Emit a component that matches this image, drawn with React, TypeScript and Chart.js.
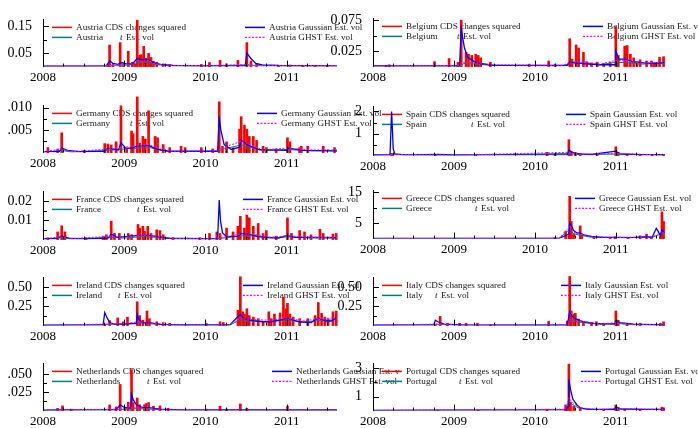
import React, { useEffect, useRef } from 'react';
import { Chart, registerables } from 'chart.js';
Chart.register(...registerables);

const FONT = '"Liberation Serif", "Times New Roman", serif';
Chart.defaults.font.family = FONT;

const YEARS = [2008, 2009, 2010, 2011];
const QUARTERS = [2008.25, 2008.5, 2008.75, 2009.25, 2009.5, 2009.75, 2010.25, 2010.5, 2010.75, 2011.25, 2011.5];
const X_MIN = 2008;
const X_MAX = 2011.62;

// ---------- Austria ----------
const austriaRedX = [2008.80, 2008.82, 2008.86, 2008.95, 2008.99, 2009.05, 2009.10, 2009.13, 2009.16, 2009.19, 2009.21, 2009.24, 2009.27, 2009.30, 2009.33, 2009.36, 2009.40, 2009.48, 2009.56, 2009.95, 2010.05, 2010.18, 2010.26, 2010.40, 2010.51, 2010.56, 2010.63, 2010.90, 2011.04, 2011.20, 2011.35, 2011.50];
const austriaRedY = [0.010, 0.080, 0.008, 0.089, 0.010, 0.057, 0.016, 0.010, 0.172, 0.042, 0.044, 0.075, 0.031, 0.049, 0.034, 0.020, 0.016, 0.010, 0.007, 0.008, 0.015, 0.023, 0.010, 0.023, 0.089, 0.021, 0.010, 0.005, 0.006, 0.005, 0.004, 0.005];
const austriaGaussX = [2008.00, 2008.78, 2008.82, 2008.86, 2008.92, 2008.97, 2009.02, 2009.10, 2009.16, 2009.22, 2009.30, 2009.36, 2009.45, 2009.60, 2010.00, 2010.49, 2010.51, 2010.56, 2010.62, 2010.70, 2010.90, 2011.62];
const austriaGaussY = [0.002, 0.002, 0.022, 0.012, 0.008, 0.015, 0.010, 0.010, 0.030, 0.025, 0.026, 0.015, 0.008, 0.004, 0.003, 0.003, 0.050, 0.030, 0.012, 0.006, 0.004, 0.003];
const austriaGhstX = [2008.00, 2008.80, 2008.95, 2009.10, 2009.16, 2009.22, 2009.30, 2009.36, 2009.50, 2010.00, 2010.51, 2010.60, 2011.62];
const austriaGhstY = [0.002, 0.003, 0.006, 0.010, 0.022, 0.020, 0.024, 0.012, 0.005, 0.003, 0.008, 0.004, 0.003];
const austriaTY = [0.001, 0.002, 0.004, 0.007, 0.016, 0.014, 0.017, 0.009, 0.004, 0.002, 0.006, 0.003, 0.002];

// ---------- Belgium ----------
const belgiumRedX = [2008.16, 2008.20, 2008.76, 2008.94, 2009.05, 2009.09, 2009.15, 2009.18, 2009.22, 2009.27, 2009.30, 2009.33, 2009.45, 2009.93, 2010.17, 2010.25, 2010.43, 2010.46, 2010.51, 2010.54, 2010.60, 2010.64, 2010.70, 2010.77, 2010.85, 2010.93, 2011.00, 2011.03, 2011.11, 2011.14, 2011.18, 2011.22, 2011.26, 2011.30, 2011.38, 2011.44, 2011.47, 2011.50, 2011.54, 2011.59];
const belgiumRedY = [0.002, 0.003, 0.008, 0.013, 0.007, 0.075, 0.023, 0.020, 0.018, 0.020, 0.018, 0.014, 0.007, 0.004, 0.009, 0.004, 0.045, 0.012, 0.035, 0.030, 0.023, 0.008, 0.006, 0.007, 0.005, 0.007, 0.064, 0.018, 0.033, 0.034, 0.020, 0.014, 0.008, 0.011, 0.009, 0.009, 0.006, 0.007, 0.015, 0.016];
const belgiumGaussX = [2008.00, 2009.07, 2009.09, 2009.11, 2009.13, 2009.17, 2009.25, 2009.33, 2009.50, 2010.40, 2010.43, 2010.50, 2010.60, 2010.80, 2010.99, 2011.00, 2011.04, 2011.12, 2011.20, 2011.35, 2011.50, 2011.60];
const belgiumGaussY = [0.001, 0.001, 0.061, 0.045, 0.030, 0.015, 0.008, 0.005, 0.002, 0.002, 0.008, 0.006, 0.005, 0.003, 0.003, 0.025, 0.012, 0.012, 0.008, 0.006, 0.005, 0.007];
const belgiumGhstX = [2008.00, 2009.08, 2009.12, 2009.30, 2009.45, 2010.35, 2010.45, 2010.60, 2010.80, 2011.00, 2011.15, 2011.30, 2011.60];
const belgiumGhstY = [0.001, 0.002, 0.007, 0.006, 0.003, 0.002, 0.008, 0.007, 0.004, 0.010, 0.009, 0.006, 0.007];
const belgiumTY = [0.001, 0.001, 0.005, 0.004, 0.002, 0.001, 0.006, 0.005, 0.003, 0.007, 0.006, 0.004, 0.005];

// ---------- Germany ----------
const germanyRedX = [2008.06, 2008.18, 2008.23, 2008.51, 2008.76, 2008.80, 2008.84, 2008.90, 2008.96, 2009.03, 2009.09, 2009.11, 2009.16, 2009.19, 2009.23, 2009.26, 2009.30, 2009.38, 2009.41, 2009.48, 2009.56, 2009.70, 2009.75, 2009.95, 2010.09, 2010.17, 2010.21, 2010.26, 2010.34, 2010.42, 2010.44, 2010.48, 2010.51, 2010.54, 2010.59, 2010.63, 2010.71, 2010.75, 2010.87, 2011.01, 2011.04, 2011.16, 2011.18, 2011.26, 2011.45, 2011.59];
const germanyRedY = [0.0011, 0.0008, 0.0044, 0.0005, 0.0020, 0.0019, 0.0017, 0.0024, 0.0104, 0.0008, 0.0048, 0.0042, 0.0124, 0.0021, 0.0036, 0.0030, 0.0093, 0.0036, 0.0033, 0.0018, 0.0011, 0.0014, 0.0011, 0.0011, 0.0008, 0.0113, 0.0014, 0.0024, 0.0011, 0.0052, 0.0080, 0.0061, 0.0052, 0.0036, 0.0036, 0.0027, 0.0014, 0.0011, 0.0008, 0.0033, 0.0024, 0.0011, 0.0014, 0.0014, 0.0014, 0.0011];
const germanyGaussX = [2008.00, 2008.20, 2008.23, 2008.30, 2008.45, 2008.75, 2008.80, 2008.93, 2008.96, 2009.02, 2009.10, 2009.16, 2009.30, 2009.40, 2009.55, 2010.15, 2010.17, 2010.19, 2010.23, 2010.32, 2010.42, 2010.44, 2010.52, 2010.65, 2011.00, 2011.02, 2011.20, 2011.62];
const germanyGaussY = [0.0002, 0.0002, 0.0010, 0.0005, 0.0002, 0.0003, 0.0010, 0.0006, 0.0022, 0.0010, 0.0010, 0.0015, 0.0016, 0.0008, 0.0003, 0.0003, 0.0080, 0.0050, 0.0018, 0.0007, 0.0012, 0.0028, 0.0017, 0.0007, 0.0005, 0.0010, 0.0005, 0.0004];
const germanyGhstX = [2008.00, 2008.23, 2008.35, 2008.80, 2009.00, 2009.16, 2009.30, 2009.45, 2009.60, 2010.15, 2010.20, 2010.44, 2010.55, 2010.70, 2011.00, 2011.30, 2011.62];
const germanyGhstY = [0.0002, 0.0008, 0.0002, 0.0008, 0.0012, 0.0015, 0.0018, 0.0008, 0.0003, 0.0004, 0.0010, 0.0025, 0.0018, 0.0006, 0.0010, 0.0006, 0.0006];
const germanyTY = [0.0001, 0.0005, 0.0001, 0.0005, 0.0008, 0.0010, 0.0012, 0.0005, 0.0002, 0.0003, 0.0007, 0.0017, 0.0012, 0.0004, 0.0007, 0.0004, 0.0004];

// ---------- Spain ----------
const spainRedX = [2008.23, 2008.77, 2009.27, 2010.15, 2010.25, 2010.42, 2010.45, 2010.50, 2010.56, 2010.77, 2011.00, 2011.03, 2011.14, 2011.30, 2011.45, 2011.59];
const spainRedY = [0.10, 0.05, 0.05, 0.15, 0.10, 0.72, 0.20, 0.12, 0.10, 0.08, 0.40, 0.15, 0.06, 0.05, 0.05, 0.06];
const spainGaussX = [2008.00, 2008.21, 2008.23, 2008.25, 2008.27, 2008.40, 2008.80, 2009.00, 2010.40, 2010.42, 2010.46, 2010.55, 2010.70, 2011.00, 2011.05, 2011.30, 2011.60];
const spainGaussY = [0.03, 0.03, 2.00, 0.30, 0.08, 0.03, 0.06, 0.03, 0.04, 0.25, 0.15, 0.08, 0.05, 0.20, 0.08, 0.04, 0.04];
const spainGhstX = [2008.00, 2008.23, 2009.00, 2010.42, 2010.55, 2011.00, 2011.60];
const spainGhstY = [0.02, 0.05, 0.02, 0.15, 0.06, 0.10, 0.03];
const spainTY = [0.01, 0.04, 0.01, 0.10, 0.04, 0.07, 0.02];

// ---------- France ----------
const franceRedX = [2008.06, 2008.18, 2008.23, 2008.27, 2008.53, 2008.74, 2008.78, 2008.84, 2008.88, 2008.94, 2009.05, 2009.09, 2009.17, 2009.19, 2009.23, 2009.25, 2009.29, 2009.33, 2009.40, 2009.44, 2009.48, 2009.60, 2009.93, 2010.05, 2010.14, 2010.18, 2010.26, 2010.34, 2010.40, 2010.43, 2010.48, 2010.51, 2010.54, 2010.59, 2010.65, 2010.71, 2010.75, 2010.87, 2011.01, 2011.06, 2011.16, 2011.22, 2011.30, 2011.41, 2011.45, 2011.57, 2011.61];
const franceRedY = [0.0010, 0.0040, 0.0072, 0.0040, 0.0010, 0.0018, 0.0025, 0.0096, 0.0032, 0.0032, 0.0032, 0.0025, 0.0079, 0.0060, 0.0069, 0.0043, 0.0069, 0.0032, 0.0051, 0.0047, 0.0025, 0.0010, 0.0010, 0.0032, 0.0040, 0.0032, 0.0060, 0.0040, 0.0069, 0.0121, 0.0060, 0.0128, 0.0113, 0.0069, 0.0084, 0.0032, 0.0047, 0.0018, 0.0113, 0.0032, 0.0047, 0.0040, 0.0025, 0.0054, 0.0032, 0.0029, 0.0032];
const franceGaussX = [2008.00, 2008.16, 2008.23, 2008.32, 2008.50, 2008.80, 2008.84, 2008.92, 2009.17, 2009.30, 2009.42, 2009.55, 2010.00, 2010.15, 2010.17, 2010.185, 2010.21, 2010.26, 2010.40, 2010.44, 2010.52, 2010.65, 2010.90, 2011.01, 2011.10, 2011.40, 2011.62];
const franceGaussY = [0.0005, 0.0005, 0.0018, 0.0008, 0.0004, 0.0008, 0.0028, 0.0012, 0.0022, 0.0022, 0.0015, 0.0007, 0.0005, 0.0005, 0.0206, 0.0100, 0.0035, 0.0016, 0.0018, 0.0032, 0.0030, 0.0015, 0.0008, 0.0022, 0.0012, 0.0012, 0.0010];
const franceGhstX = [2008.00, 2008.23, 2008.35, 2008.84, 2009.00, 2009.20, 2009.40, 2009.60, 2010.10, 2010.26, 2010.45, 2010.60, 2010.80, 2011.01, 2011.30, 2011.62];
const franceGhstY = [0.0004, 0.0015, 0.0005, 0.0018, 0.0012, 0.0022, 0.0018, 0.0006, 0.0005, 0.0015, 0.0030, 0.0028, 0.0012, 0.0020, 0.0012, 0.0012];
const franceTY = [0.0003, 0.0010, 0.0003, 0.0012, 0.0008, 0.0015, 0.0012, 0.0004, 0.0003, 0.0010, 0.0020, 0.0019, 0.0008, 0.0014, 0.0008, 0.0008];

// ---------- Greece ----------
const greeceRedX = [2010.25, 2010.38, 2010.42, 2010.43, 2010.45, 2010.48, 2010.56, 2010.58, 2010.73, 2010.93, 2010.99, 2011.15, 2011.30, 2011.38, 2011.44, 2011.55, 2011.57, 2011.59];
const greeceRedY = [0.3, 2.3, 1.2, 13.6, 5.5, 1.5, 4.1, 1.4, 0.5, 0.4, 0.6, 0.3, 0.9, 1.4, 0.4, 0.8, 8.6, 5.5];
const greeceGaussX = [2008.00, 2010.30, 2010.38, 2010.42, 2010.43, 2010.45, 2010.48, 2010.52, 2010.56, 2010.60, 2010.70, 2010.85, 2011.00, 2011.20, 2011.38, 2011.45, 2011.50, 2011.52, 2011.55, 2011.57, 2011.60];
const greeceGaussY = [0.05, 0.10, 1.0, 1.5, 5.0, 4.2, 2.6, 1.8, 1.8, 1.2, 0.7, 0.4, 0.4, 0.3, 0.6, 0.5, 3.3, 2.5, 1.0, 2.8, 2.0];
const greeceGhstX = [2008.00, 2010.30, 2010.43, 2010.48, 2010.56, 2010.70, 2011.00, 2011.45, 2011.57, 2011.60];
const greeceGhstY = [0.05, 0.10, 4.0, 2.0, 1.5, 0.6, 0.4, 0.5, 2.2, 1.6];
const greeceTY = [0.03, 0.07, 3.0, 1.5, 1.1, 0.4, 0.3, 0.4, 1.6, 1.2];

// ---------- Ireland ----------
const irelandRedX = [2008.76, 2008.82, 2008.92, 2008.99, 2009.04, 2009.16, 2009.19, 2009.23, 2009.28, 2009.31, 2009.40, 2009.48, 2009.56, 2010.01, 2010.18, 2010.22, 2010.40, 2010.43, 2010.46, 2010.48, 2010.51, 2010.54, 2010.59, 2010.65, 2010.71, 2010.78, 2010.81, 2010.85, 2010.92, 2010.96, 2010.99, 2011.01, 2011.04, 2011.08, 2011.16, 2011.26, 2011.35, 2011.39, 2011.43, 2011.47, 2011.51, 2011.57, 2011.61];
const irelandRedY = [0.020, 0.066, 0.100, 0.050, 0.110, 0.310, 0.130, 0.070, 0.190, 0.090, 0.050, 0.040, 0.030, 0.030, 0.050, 0.040, 0.200, 0.636, 0.180, 0.150, 0.220, 0.130, 0.110, 0.090, 0.050, 0.180, 0.090, 0.150, 0.165, 0.370, 0.220, 0.290, 0.150, 0.110, 0.090, 0.090, 0.130, 0.300, 0.160, 0.110, 0.090, 0.180, 0.190];
const irelandGaussX = [2008.00, 2008.74, 2008.76, 2008.79, 2008.82, 2008.88, 2009.00, 2009.15, 2009.16, 2009.18, 2009.23, 2009.30, 2009.45, 2009.70, 2010.30, 2010.43, 2010.46, 2010.55, 2010.70, 2010.80, 2010.96, 2011.01, 2011.15, 2011.30, 2011.39, 2011.48, 2011.55, 2011.61];
const irelandGaussY = [0.005, 0.005, 0.170, 0.100, 0.040, 0.020, 0.020, 0.030, 0.150, 0.080, 0.040, 0.040, 0.015, 0.008, 0.010, 0.150, 0.100, 0.070, 0.050, 0.050, 0.080, 0.100, 0.050, 0.040, 0.100, 0.060, 0.060, 0.100];
const irelandGhstX = [2008.00, 2008.76, 2009.00, 2009.20, 2009.35, 2009.60, 2010.30, 2010.43, 2010.55, 2010.80, 2011.00, 2011.20, 2011.40, 2011.60];
const irelandGhstY = [0.004, 0.020, 0.030, 0.050, 0.030, 0.010, 0.010, 0.100, 0.080, 0.070, 0.100, 0.060, 0.090, 0.100];
const irelandTY = [0.003, 0.015, 0.022, 0.037, 0.022, 0.007, 0.007, 0.075, 0.060, 0.052, 0.075, 0.045, 0.067, 0.075];

// ---------- Italy ----------
const italyRedX = [2008.77, 2008.83, 2008.92, 2009.07, 2009.15, 2009.29, 2009.45, 2010.17, 2010.40, 2010.43, 2010.45, 2010.48, 2010.50, 2010.54, 2010.60, 2010.70, 2010.76, 2010.85, 2011.00, 2011.03, 2011.14, 2011.30, 2011.55, 2011.59];
const italyRedY = [0.020, 0.120, 0.030, 0.030, 0.030, 0.030, 0.010, 0.055, 0.060, 0.640, 0.190, 0.150, 0.160, 0.085, 0.050, 0.040, 0.050, 0.020, 0.190, 0.070, 0.030, 0.030, 0.030, 0.050];
const italyGaussX = [2008.00, 2008.75, 2008.77, 2008.80, 2008.88, 2009.10, 2009.50, 2010.40, 2010.43, 2010.46, 2010.52, 2010.60, 2010.73, 2010.98, 2011.00, 2011.05, 2011.22, 2011.60];
const italyGaussY = [0.005, 0.005, 0.070, 0.050, 0.020, 0.010, 0.006, 0.006, 0.180, 0.120, 0.080, 0.050, 0.030, 0.020, 0.060, 0.040, 0.020, 0.010];
const italyGhstX = [2008.00, 2008.80, 2009.00, 2010.40, 2010.43, 2010.55, 2010.80, 2011.00, 2011.20, 2011.60];
const italyGhstY = [0.004, 0.020, 0.010, 0.010, 0.080, 0.060, 0.020, 0.040, 0.015, 0.010];
const italyTY = [0.003, 0.015, 0.007, 0.007, 0.060, 0.045, 0.015, 0.030, 0.011, 0.007];

// ---------- Netherlands ----------
const netherlandsRedX = [2008.18, 2008.24, 2008.35, 2008.82, 2008.90, 2008.95, 2009.01, 2009.05, 2009.09, 2009.11, 2009.16, 2009.19, 2009.25, 2009.27, 2009.30, 2009.36, 2009.44, 2009.54, 2010.01, 2010.18, 2010.26, 2010.43, 2010.51, 2011.01];
const netherlandsRedY = [0.0030, 0.0065, 0.0020, 0.0077, 0.0050, 0.0358, 0.0040, 0.0115, 0.0560, 0.0110, 0.0173, 0.0080, 0.0080, 0.0096, 0.0110, 0.0060, 0.0065, 0.0030, 0.0020, 0.0060, 0.0020, 0.0090, 0.0030, 0.0060];
const netherlandsGaussX = [2008.00, 2008.24, 2008.90, 2008.95, 2008.99, 2009.05, 2009.08, 2009.09, 2009.11, 2009.15, 2009.23, 2009.30, 2009.44, 2009.70, 2011.62];
const netherlandsGaussY = [0.0005, 0.0010, 0.0010, 0.0080, 0.0050, 0.0030, 0.0040, 0.0230, 0.0150, 0.0080, 0.0040, 0.0040, 0.0020, 0.0010, 0.0008];
const netherlandsGhstX = [2008.00, 2008.95, 2009.09, 2009.30, 2009.50, 2011.62];
const netherlandsGhstY = [0.0005, 0.0020, 0.0040, 0.0030, 0.0010, 0.0008];
const netherlandsTY = [0.0003, 0.0014, 0.0028, 0.0021, 0.0007, 0.0005];

// ---------- Portugal ----------
const portugalRedX = [2008.80, 2009.30, 2010.15, 2010.38, 2010.40, 2010.42, 2010.44, 2010.48, 2010.56, 2010.85, 2011.00, 2011.03, 2011.11, 2011.30, 2011.57, 2011.59];
const portugalRedY = [0.03, 0.03, 0.10, 0.40, 0.25, 3.30, 0.60, 0.30, 0.10, 0.10, 0.40, 0.20, 0.10, 0.10, 0.24, 0.20];
const portugalGaussX = [2008.00, 2010.38, 2010.41, 2010.42, 2010.44, 2010.47, 2010.52, 2010.56, 2010.64, 2010.98, 2011.00, 2011.06, 2011.30, 2011.60];
const portugalGaussY = [0.02, 0.05, 0.30, 2.20, 1.50, 0.80, 0.40, 0.20, 0.10, 0.08, 0.25, 0.12, 0.08, 0.08];
const portugalGhstX = [2008.00, 2010.38, 2010.42, 2010.46, 2010.55, 2010.80, 2011.00, 2011.60];
const portugalGhstY = [0.02, 0.10, 0.90, 0.60, 0.20, 0.08, 0.15, 0.08];
const portugalTY = [0.01, 0.07, 0.70, 0.45, 0.15, 0.06, 0.11, 0.06];

type Panel = {
  name: string;
  redX: number[]; redY: number[];
  gaussX: number[]; gaussY: number[];
  ghstX: number[]; ghstY: number[]; tY: number[];
  yMax: number; yTicks: number[]; yLabels: string[]; yMinor: number[];
  col: number; plotTop: number; plotBottom: number; tOff: number; c2: number;
};

const PANELS: Panel[] = [
  { name: 'Austria', redX: austriaRedX, redY: austriaRedY, gaussX: austriaGaussX, gaussY: austriaGaussY, ghstX: austriaGhstX, ghstY: austriaGhstY, tY: austriaTY,
    yMax: 0.175, yTicks: [0.05, 0.15], yLabels: ['0.05', '0.15'], yMinor: [0.10], col: 0, plotTop: 11, plotBottom: 67, tOff: 44, c2: 202 },
  { name: 'Belgium', redX: belgiumRedX, redY: belgiumRedY, gaussX: belgiumGaussX, gaussY: belgiumGaussY, ghstX: belgiumGhstX, ghstY: belgiumGhstY, tY: belgiumTY,
    yMax: 0.0778, yTicks: [0.025, 0.075], yLabels: ['0.025', '0.075'], yMinor: [0.05], col: 1, plotTop: 10, plotBottom: 67, tOff: 51, c2: 210 },
  { name: 'Germany', redX: germanyRedX, redY: germanyRedY, gaussX: germanyGaussX, gaussY: germanyGaussY, ghstX: germanyGhstX, ghstY: germanyGhstY, tY: germanyTY,
    yMax: 0.0105, yTicks: [0.005, 0.010], yLabels: ['.005', '.010'], yMinor: [0.0025, 0.0075], col: 0, plotTop: 97, plotBottom: 153, tOff: 54, c2: 214 },
  { name: 'Spain', redX: spainRedX, redY: spainRedY, gaussX: spainGaussX, gaussY: spainGaussY, ghstX: spainGhstX, ghstY: spainGhstY, tY: spainTY,
    yMax: 2.23, yTicks: [1, 2], yLabels: ['1', '2'], yMinor: [0.5, 1.5], col: 1, plotTop: 98, plotBottom: 156, tOff: 65, c2: 193 },
  { name: 'France', redX: franceRedX, redY: franceRedY, gaussX: franceGaussX, gaussY: franceGaussY, ghstX: franceGhstX, ghstY: franceGhstY, tY: franceTY,
    yMax: 0.0251, yTicks: [0.01, 0.02], yLabels: ['0.01', '0.02'], yMinor: [0.005, 0.015], col: 0, plotTop: 183, plotBottom: 240, tOff: 61, c2: 200 },
  { name: 'Greece', redX: greeceRedX, redY: greeceRedY, gaussX: greeceGaussX, gaussY: greeceGaussY, ghstX: greeceGhstX, ghstY: greeceGhstY, tY: greeceTY,
    yMax: 15.5, yTicks: [5, 15], yLabels: ['5', '15'], yMinor: [10], col: 1, plotTop: 182, plotBottom: 239, tOff: 69, c2: 202 },
  { name: 'Ireland', redX: irelandRedX, redY: irelandRedY, gaussX: irelandGaussX, gaussY: irelandGaussY, ghstX: irelandGhstX, ghstY: irelandGhstY, tY: irelandTY,
    yMax: 0.628, yTicks: [0.25, 0.5], yLabels: ['0.25', '0.50'], yMinor: [0.125, 0.375], col: 0, plotTop: 269, plotBottom: 326, tOff: 42, c2: 200 },
  { name: 'Italy', redX: italyRedX, redY: italyRedY, gaussX: italyGaussX, gaussY: italyGaussY, ghstX: italyGhstX, ghstY: italyGhstY, tY: italyTY,
    yMax: 0.628, yTicks: [0.25, 0.5], yLabels: ['0.25', '0.50'], yMinor: [0.125, 0.375], col: 1, plotTop: 269, plotBottom: 326, tOff: 29, c2: 188 },
  { name: 'Netherlands', redX: netherlandsRedX, redY: netherlandsRedY, gaussX: netherlandsGaussX, gaussY: netherlandsGaussY, ghstX: netherlandsGhstX, ghstY: netherlandsGhstY, tY: netherlandsTY,
    yMax: 0.0646, yTicks: [0.025, 0.05], yLabels: ['.025', '.050'], yMinor: [0.0125, 0.0375], col: 0, plotTop: 355, plotBottom: 411, tOff: 71, c2: 229 },
  { name: 'Portugal', redX: portugalRedX, redY: portugalRedY, gaussX: portugalGaussX, gaussY: portugalGaussY, ghstX: portugalGhstX, ghstY: portugalGhstY, tY: portugalTY,
    yMax: 3.35, yTicks: [1, 3], yLabels: ['1', '3'], yMinor: [2], col: 1, plotTop: 355, plotBottom: 411, tOff: 53, c2: 208 },
];

const RED = '#ff0000';
const BLUE = '#0000ff';
const TEAL = '#008080';
const MAGENTA = '#ff00ff';

const pts = (xs: number[], ys: number[]) => xs.map((x, i) => ({ x, y: ys[i] }));

function seg(ctx: CanvasRenderingContext2D, x1: number, x2: number, y: number, color: string, w: number, dash: number[]) {
  ctx.save();
  ctx.strokeStyle = color;
  ctx.lineWidth = w;
  ctx.setLineDash(dash);
  ctx.beginPath();
  ctx.moveTo(x1, y);
  ctx.lineTo(x2, y);
  ctx.stroke();
  ctx.restore();
}

function makePlugin(p: Panel) {
  return {
    id: 'frame_' + p.name,
    beforeDatasetsDraw(chart: any) {
      const ctx: CanvasRenderingContext2D = chart.ctx;
      const a = chart.chartArea;
      const L = a.left;
      const r1 = a.top + 8;
      const r2 = a.top + 18;
      const normal = `9.2px ${FONT}`;
      ctx.save();
      ctx.textBaseline = 'middle';
      ctx.textAlign = 'left';
      ctx.fillStyle = '#222';
      seg(ctx, L + 9, L + 29, r1, RED, 1.5, []);
      seg(ctx, L + 9, L + 29, r2, TEAL, 1.5, []);
      ctx.font = normal;
      ctx.fillText(`${p.name} CDS changes squared`, L + 33, r1);
      ctx.fillText(p.name, L + 33, r2);
      ctx.font = `italic 9.2px ${FONT}`;
      ctx.fillText('t', L + 33 + p.tOff, r2);
      ctx.font = normal;
      ctx.fillText('Est. vol', L + 33 + p.tOff + 6, r2);
      seg(ctx, L + p.c2, L + p.c2 + 20, r1, BLUE, 1.5, []);
      seg(ctx, L + p.c2, L + p.c2 + 20, r2, MAGENTA, 1.2, [2, 1.5]);
      ctx.fillText(`${p.name} Gaussian Est. vol`, L + p.c2 + 24, r1);
      ctx.fillText(`${p.name} GHST Est. vol`, L + p.c2 + 24, r2);
      ctx.restore();
    },
    afterDatasetsDraw(chart: any) {
      const ctx: CanvasRenderingContext2D = chart.ctx;
      const a = chart.chartArea;
      const xs = chart.scales.x;
      const ys = chart.scales.y;
      ctx.save();
      ctx.strokeStyle = '#000';
      ctx.lineWidth = 1;
      ctx.beginPath();
      p.yTicks.forEach((v) => {
        const y = Math.round(ys.getPixelForValue(v)) + 0.5;
        ctx.moveTo(a.left, y);
        ctx.lineTo(a.left + 6, y);
      });
      p.yMinor.forEach((v) => {
        const y = Math.round(ys.getPixelForValue(v)) + 0.5;
        ctx.moveTo(a.left, y);
        ctx.lineTo(a.left + 4, y);
      });
      YEARS.forEach((v) => {
        const x = Math.round(xs.getPixelForValue(v)) + 0.5;
        ctx.moveTo(x, a.bottom);
        ctx.lineTo(x, a.bottom - 6);
      });
      QUARTERS.forEach((v) => {
        const x = Math.round(xs.getPixelForValue(v)) + 0.5;
        ctx.moveTo(x, a.bottom);
        ctx.lineTo(x, a.bottom - 3);
      });
      ctx.stroke();
      ctx.restore();
    },
  };
}

function PanelChart({ p }: { p: Panel }) {
  const ref = useRef<HTMLCanvasElement | null>(null);
  const left = p.col === 0 ? 0 : 330;
  const width = p.col === 0 ? 400 : 368;
  const plotRight = p.col === 0 ? 337 : 336;
  const top = p.plotTop - 11;
  const plotH = p.plotBottom - p.plotTop;
  const height = plotH + 30;

  useEffect(() => {
    if (!ref.current) return;
    const chart = new Chart(ref.current, {
      type: 'line',
      data: {
        datasets: [
          { type: 'line', label: 'GHST', data: pts(p.ghstX, p.ghstY), borderColor: MAGENTA, borderWidth: 1, borderDash: [2, 1.5], pointRadius: 0, tension: 0, fill: false },
          { type: 'line', label: 'Gaussian', data: pts(p.gaussX, p.gaussY), borderColor: BLUE, borderWidth: 1.3, pointRadius: 0, tension: 0, fill: false },
          { type: 'line', label: 't', data: pts(p.ghstX, p.tY), borderColor: TEAL, borderWidth: 1, pointRadius: 0, tension: 0, fill: false },
          { type: 'bar', label: 'CDS', data: pts(p.redX, p.redY), backgroundColor: RED, borderWidth: 0, barThickness: 2, clip: false } as any,
        ],
      },
      options: {
        responsive: false,
        animation: false,
        devicePixelRatio: 1,
        layout: { padding: { top: 11, right: width - plotRight, left: 0, bottom: 0 } },
        plugins: { legend: { display: false }, tooltip: { enabled: false } },
        scales: {
          x: {
            type: 'linear', min: X_MIN, max: X_MAX, offset: false,
            grid: { display: false, drawTicks: false, tickLength: 0 }, border: { display: false },
            afterBuildTicks: (s: any) => { s.ticks = YEARS.map((v) => ({ value: v })); },
            afterFit: (s: any) => { s.height = 19; },
            ticks: { padding: 3, color: '#000', font: { size: 13, family: FONT }, maxRotation: 0, autoSkip: false, callback: (v: any) => String(v) },
          },
          y: {
            type: 'linear', min: 0, max: p.yMax,
            grid: { display: false, drawTicks: false, tickLength: 0 }, border: { display: true, color: '#000', width: 1 },
            afterBuildTicks: (s: any) => { s.ticks = p.yTicks.map((v) => ({ value: v })); },
            afterFit: (s: any) => { s.width = 43; },
            ticks: { padding: 11, color: '#000', font: { size: 14, family: FONT }, autoSkip: false, callback: (_v: any, i: number) => p.yLabels[i] },
          },
        },
      } as any,
      plugins: [makePlugin(p)],
    });
    return () => chart.destroy();
  }, [p]);

  return (
    <canvas
      ref={ref}
      width={width}
      height={height}
      style={{ position: 'absolute', left, top, width, height, display: 'block' }}
    />
  );
}

export default function App() {
  useEffect(() => {
    document.body.style.margin = '0';
  }, []);
  return (
    <div style={{ position: 'fixed', left: 0, top: 0, width: 698, height: 428, overflow: 'hidden', background: '#fff' }}>
      {PANELS.map((p) => (
        <PanelChart key={p.name} p={p} />
      ))}
    </div>
  );
}
